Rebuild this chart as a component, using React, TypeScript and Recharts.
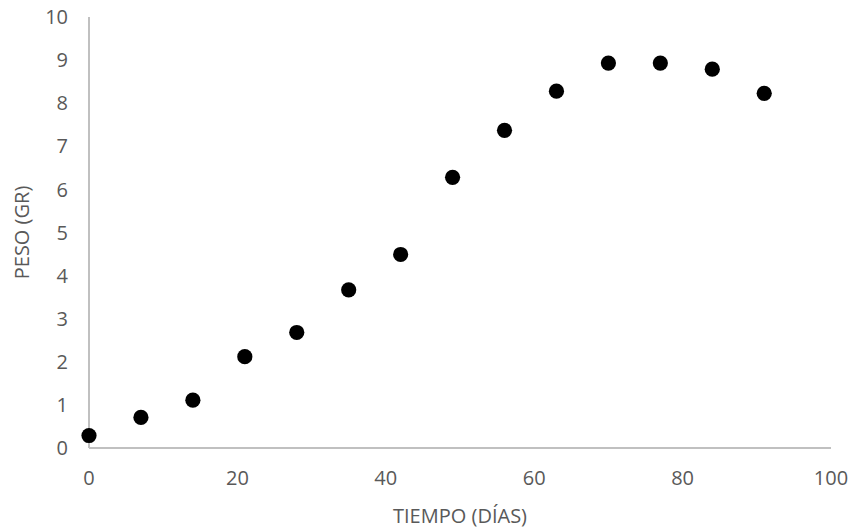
import React from 'react';
import { ScatterChart, Scatter, XAxis, YAxis } from 'recharts';

const days = [0, 7, 14, 21, 28, 35, 42, 49, 56, 63, 70, 77, 84, 91];
const weights = [0.29, 0.71, 1.11, 2.12, 2.68, 3.67, 4.49, 6.28, 7.37, 8.28, 8.93, 8.93, 8.79, 8.23];
const xTicks = [0, 20, 40, 60, 80, 100];
const yTicks = [0, 1, 2, 3, 4, 5, 6, 7, 8, 9, 10];
const xTitle = 'TIEMPO (DÍAS)';
const yTitle = 'PESO (GR)';

const data = days.map((d, i) => ({ x: d, y: weights[i] }));

const FONT = '"Open Sans", "Liberation Sans", sans-serif';
const TEXT = '#595959';
const AXIS = '#c0c0c0';

const Dot = (props: any) => {
  const { cx, cy } = props;
  return <circle cx={cx} cy={cy} r={7.6} fill="#000" />;
};

const YLabel = (props: any) => {
  const vb = props.viewBox || {};
  const x = 21;
  const y = vb.y + vb.height / 2;
  return (
    <text
      x={x}
      y={y}
      transform={`rotate(-90, ${x}, ${y})`}
      textAnchor="middle"
      dominantBaseline="central"
      fill={TEXT}
      fontSize={20}
      fontFamily={FONT}
    >
      {yTitle}
    </text>
  );
};

const XLabel = (props: any) => {
  const vb = props.viewBox || {};
  const x = vb.x + vb.width / 2;
  const y = 515;
  return (
    <text
      x={x}
      y={y}
      textAnchor="middle"
      dominantBaseline="central"
      fill={TEXT}
      fontSize={20}
      fontFamily={FONT}
    >
      {xTitle}
    </text>
  );
};

export default function App() {
  return (
    <div style={{ position: 'absolute', left: 0, top: 0, background: '#fff' }}>
      <ScatterChart width={853} height={530} margin={{ top: 17, right: 22, bottom: 0, left: 0 }}>
        <XAxis
          type="number"
          dataKey="x"
          domain={[0, 100]}
          ticks={xTicks}
          interval={0}
          height={82}
          tickLine={false}
          tickSize={0}
          tickMargin={23}
          axisLine={{ stroke: AXIS, strokeWidth: 2 }}
          tick={{ fill: TEXT, fontSize: 20, fontFamily: FONT }}
          label={<XLabel />}
        />
        <YAxis
          type="number"
          dataKey="y"
          domain={[0, 10]}
          ticks={yTicks}
          interval={0}
          width={89}
          tickLine={false}
          tickSize={0}
          tickMargin={21}
          axisLine={{ stroke: AXIS, strokeWidth: 2 }}
          tick={{ fill: TEXT, fontSize: 20, fontFamily: FONT }}
          label={<YLabel />}
        />
        <Scatter data={data} fill="#000" shape={<Dot />} isAnimationActive={false} />
      </ScatterChart>
    </div>
  );
}
